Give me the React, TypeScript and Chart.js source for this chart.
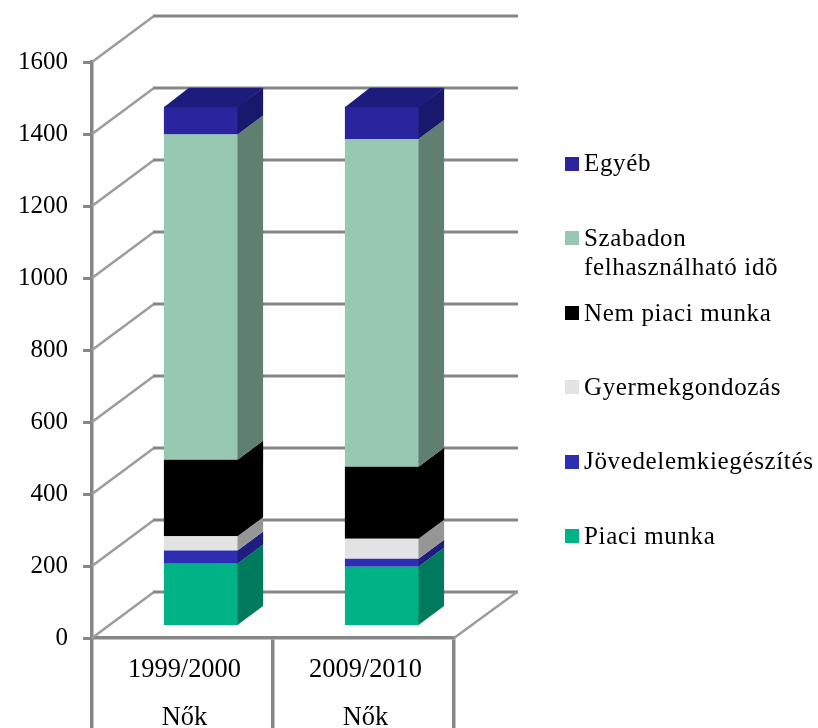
import React, { useEffect, useRef } from "react";
import { Chart, registerables } from "chart.js";

Chart.register(...registerables);

const categories = [["1999/2000", "Nők"], ["2009/2010", "Nők"]];
const piaciMunka = [174, 166];
const jovedelem = [37, 22];
const gyermek = [40, 56];
const nemPiaci = [212, 200];
const szabadon = [904, 910];
const egyeb = [77, 90];
const yTicks = { min: 0, max: 1600, step: 200 };

const faceColors = ["#00B386", "#2E2EB2", "#E3E3E3", "#000000", "#97C9B2", "#2A259F"];
const sideColors = ["#007A5C", "#1E1E80", "#969696", "#000000", "#5F8070", "#18186C"];
const topColor = "#1C1C7C";
const axisColor = "#868686";
const serif = "'Liberation Serif', 'Times New Roman', serif";

const WIDTH = 818;
const HEIGHT = 728;
const wallDx = 62;
const wallDy = -46;
const barDx = 18.5;
const barDy = -11.5;
const depthDx = 25;
const depthDy = -19;

// [dataset index, swatch top, first text line centre]
const legendLayout = [
  [5, 157, 164],
  [4, 231, 239],
  [3, 306, 314],
  [2, 380, 388],
  [1, 455, 462],
  [0, 529, 537],
];

const seriesLabels = [
  "Piaci munka",
  "Jövedelemkiegészítés",
  "Gyermekgondozás",
  "Nem piaci munka",
  "Szabadon\nfelhasználható idõ",
  "Egyéb",
];
const seriesValues = [piaciMunka, jovedelem, gyermek, nemPiaci, szabadon, egyeb];

const poly = (ctx: CanvasRenderingContext2D, pts: number[][], fill: string) => {
  ctx.beginPath();
  pts.forEach((p, i) => (i ? ctx.lineTo(p[0], p[1]) : ctx.moveTo(p[0], p[1])));
  ctx.closePath();
  ctx.fillStyle = fill;
  ctx.fill();
};

const column3d = {
  id: "column3d",
  beforeDatasetsDraw(chart: any) {
    const { ctx, chartArea, scales } = chart;
    const { left, right, bottom } = chartArea;
    ctx.save();
    ctx.lineCap = "butt";
    scales.y.ticks.forEach((t: any) => {
      const y = scales.y.getPixelForValue(t.value);
      ctx.strokeStyle = "#9C9C9C";
      ctx.lineWidth = 2.5;
      ctx.beginPath();
      ctx.moveTo(left, y);
      ctx.lineTo(left + wallDx, y + wallDy);
      ctx.stroke();
      ctx.strokeStyle = axisColor;
      ctx.lineWidth = 3;
      ctx.beginPath();
      ctx.moveTo(left + wallDx - 1, y + wallDy);
      ctx.lineTo(right + wallDx + 2, y + wallDy);
      ctx.stroke();
    });
    ctx.strokeStyle = "#9C9C9C";
    ctx.lineWidth = 2.5;
    ctx.beginPath();
    ctx.moveTo(right, bottom);
    ctx.lineTo(right + wallDx + 1, bottom + wallDy);
    ctx.stroke();
    ctx.restore();
    ctx.save();
    ctx.translate(barDx, barDy);
  },
  afterDatasetsDraw(chart: any) {
    const { ctx } = chart;
    const last = chart.data.datasets.length - 1;
    chart.data.datasets.forEach((_: any, i: number) => {
      chart.getDatasetMeta(i).data.forEach((bar: any) => {
        const r = bar.x + bar.width / 2;
        const l = bar.x - bar.width / 2;
        poly(
          ctx,
          [
            [r - 0.6, bar.y],
            [r + depthDx, bar.y + depthDy],
            [r + depthDx, bar.base + depthDy],
            [r - 0.6, bar.base],
          ],
          sideColors[i]
        );
        if (i === last) {
          poly(
            ctx,
            [
              [l, bar.y + 0.5],
              [l + depthDx, bar.y + depthDy],
              [r + depthDx, bar.y + depthDy],
              [r, bar.y + 0.5],
            ],
            topColor
          );
        }
      });
    });
    ctx.restore();

    ctx.save();
    ctx.font = `25px ${serif}`;
    ctx.textBaseline = "middle";
    ctx.textAlign = "left";
    (ctx as any).letterSpacing = "0.65px";
    legendLayout.forEach(([idx, swatchTop, textY]) => {
      ctx.fillStyle = faceColors[idx];
      ctx.fillRect(565, swatchTop, 14, 14);
      ctx.fillStyle = "#000000";
      seriesLabels[idx].split("\n").forEach((line, n) => {
        ctx.fillText(line, 584, textY + n * 29);
      });
    });
    ctx.restore();
  },
};

export default function App() {
  const ref = useRef<HTMLCanvasElement>(null);
  useEffect(() => {
    if (!ref.current) return;
    const chart = new Chart(ref.current, {
      type: "bar",
      data: {
        labels: categories as any,
        datasets: seriesValues.map((data, i) => ({
          label: seriesLabels[i],
          data,
          backgroundColor: faceColors[i],
          borderWidth: 0,
          barPercentage: 0.41,
          categoryPercentage: 1,
          clip: false as any,
        })),
      },
      options: {
        responsive: false,
        animation: false,
        layout: { padding: { left: 0, top: 62, right: WIDTH - 454, bottom: 0 } },
        plugins: { legend: { display: false }, tooltip: { enabled: false }, title: { display: false } },
        scales: {
          x: {
            stacked: true,
            afterFit: (s: any) => {
              s.height = HEIGHT - 638;
            },
            border: { color: axisColor, width: 3.5 },
            grid: {
              offset: true,
              drawOnChartArea: false,
              drawTicks: true,
              tickLength: 92,
              color: axisColor,
              lineWidth: 3.5,
            },
            ticks: {
              padding: -84,
              labelOffset: 2,
              maxRotation: 0,
              color: "#000000",
              font: { family: serif, size: 26.4, lineHeight: 1.82 },
            },
          },
          y: {
            stacked: true,
            min: yTicks.min,
            max: yTicks.max,
            afterFit: (s: any) => {
              s.width = 92;
            },
            border: { color: axisColor, width: 3.5 },
            grid: {
              drawOnChartArea: false,
              drawTicks: true,
              tickLength: 9,
              color: axisColor,
              lineWidth: 3,
            },
            ticks: {
              stepSize: yTicks.step,
              padding: 15,
              color: "#000000",
              font: { family: serif, size: 25 },
              callback: (v: any) => String(v),
            },
          },
        },
      },
      plugins: [column3d],
    } as any);
    return () => chart.destroy();
  }, []);
  return (
    <canvas
      ref={ref}
      width={WIDTH}
      height={HEIGHT}
      style={{ position: "absolute", left: 0, top: 0, display: "block" }}
    />
  );
}
